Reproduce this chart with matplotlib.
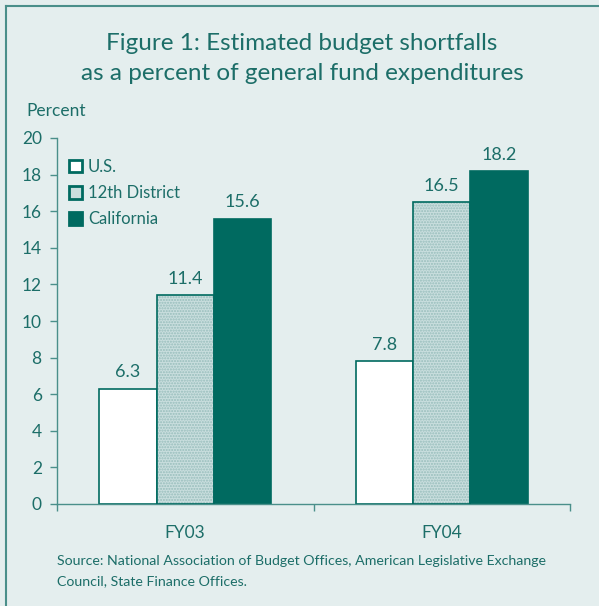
import matplotlib

matplotlib.use("Agg")
import matplotlib.pyplot as plt
from matplotlib.lines import Line2D
from matplotlib.patches import Patch

plt.rcParams["font.family"] = ["Lato", "DejaVu Sans"]

YEARS = ["FY03", "FY04"]
SERIES = ["U.S.", "12th District", "California"]
US = [6.3, 7.8]
DISTRICT12 = [11.4, 16.5]
CALIFORNIA = [15.6, 18.2]
Y_TICKS = [0, 2, 4, 6, 8, 10, 12, 14, 16, 18, 20]

BG = "#e4eeee"
TEAL = "#006a60"
TEXT = "#1c6e68"
SPINE = "#4a8f8a"
DOT_FACE = "#c9dede"
DOT_HATCH = "#97bdbb"

W, H = 599, 606
fig = plt.figure(figsize=(W / 100, H / 100), dpi=100, facecolor=BG)

# axes placed in pixel terms of the reference
x0, x1, y_top, y_bot = 57, 570, 138, 504
ax = fig.add_axes([x0 / W, 1 - y_bot / H, (x1 - x0) / W, (y_bot - y_top) / H])
ax.set_facecolor(BG)

bw = 0.223
centers = [0.5, 1.5]
vals = [US, DISTRICT12, CALIFORNIA]
for k, v in enumerate(vals):
    xs = [c + (k - 1) * bw for c in centers]
    if k == 0:
        ax.bar(xs, v, width=bw, color="white", edgecolor=TEAL, linewidth=1.2, zorder=2)
    elif k == 1:
        ax.bar(xs, v, width=bw, color=DOT_FACE, edgecolor=DOT_HATCH, hatch="......",
               linewidth=0, zorder=2)
        ax.bar(xs, v, width=bw, fill=False, edgecolor=TEAL, linewidth=1.2, zorder=3)
    else:
        ax.bar(xs, v, width=bw, color=TEAL, edgecolor=TEAL, linewidth=1.2, zorder=2)
    for xi, yi in zip(xs, v):
        ax.annotate(f"{yi:.1f}", (xi, yi), xytext=(0, 6), textcoords="offset points",
                    ha="center", va="bottom", fontsize=13, color=TEXT)

ax.set_xlim(0, 2)
ax.set_ylim(0, 20)
ax.set_yticks(Y_TICKS)
ax.set_xticks([0, 1, 2])
ax.set_xticklabels([])
for c, lab in zip(centers, YEARS):
    ax.text(c, -1.6, lab, ha="center", va="center", fontsize=12.5, color=TEXT)
ax.tick_params(axis="both", direction="out", length=5, width=1, color=SPINE,
               labelcolor=TEXT, labelsize=12.5)
ax.tick_params(axis="y", pad=6)
for s in ["top", "right"]:
    ax.spines[s].set_visible(False)
for s in ["left", "bottom"]:
    ax.spines[s].set_color(SPINE)
    ax.spines[s].set_linewidth(1)

handles = [
    Patch(facecolor="white", edgecolor=TEAL, linewidth=2),
    Patch(facecolor=DOT_FACE, edgecolor=TEAL, linewidth=2),
    Patch(facecolor=TEAL, edgecolor=TEAL, linewidth=2),
]
leg = ax.legend(handles, SERIES, loc="upper left", bbox_to_anchor=(0.0, 0.975),
                frameon=False, fontsize=12, handlelength=0.8, handleheight=0.8,
                handletextpad=0.35, labelspacing=0.62, borderaxespad=0.3)
for t in leg.get_texts():
    t.set_color(TEXT)

fig.text(302 / W, 1 - 43 / H, "Figure 1: Estimated budget shortfalls", ha="center",
         va="center", fontsize=17.5, color=TEXT)
fig.text(302 / W, 1 - 74 / H, "as a percent of general fund expenditures", ha="center",
         va="center", fontsize=17.5, color=TEXT)
fig.text(26 / W, 1 - 111 / H, "Percent", ha="left", va="center", fontsize=12.5, color=TEXT)
fig.text(57 / W, 1 - 561 / H,
         "Source: National Association of Budget Offices, American Legislative Exchange",
         ha="left", va="center", fontsize=10.2, color=TEXT)
fig.text(57 / W, 1 - 581 / H, "Council, State Finance Offices.", ha="left", va="center",
         fontsize=10.2, color=TEXT)

# frame lines at top and left
fig.add_artist(Line2D([6 / W, 6 / W], [0, 1 - 6 / H], color=SPINE, lw=1.5))
fig.add_artist(Line2D([6 / W, 1], [1 - 6 / H, 1 - 6 / H], color=SPINE, lw=1.5))

fig.savefig("out.png", dpi=100, facecolor=BG)
